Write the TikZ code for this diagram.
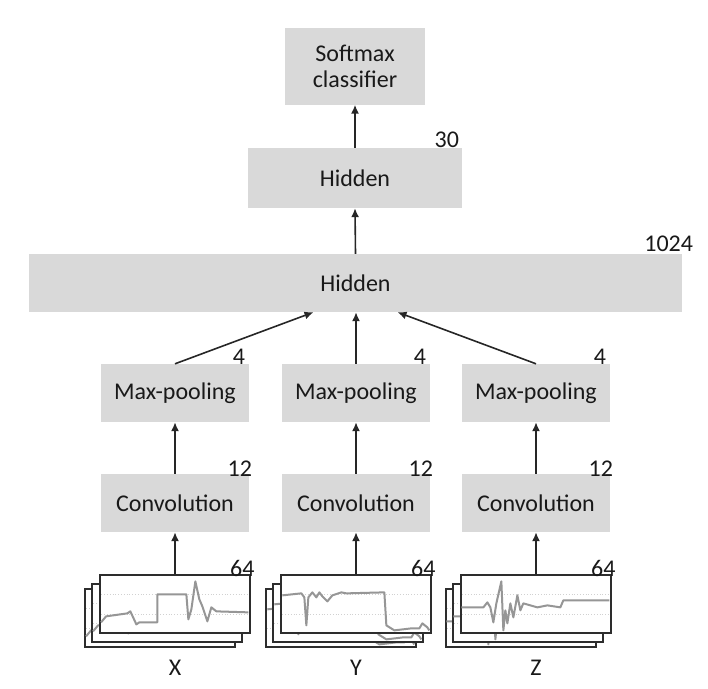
\documentclass[tikz,border=0pt]{standalone}
\usepackage{fontspec}
\setmainfont{Carlito}
\usetikzlibrary{arrows.meta,positioning}
\definecolor{boxgray}{RGB}{217,217,217}
\definecolor{txtgray}{RGB}{25,25,25}
\definecolor{siggray}{RGB}{150,150,150}
\definecolor{framegray}{RGB}{45,45,45}
\newcommand{\layerfont}{\fontsize{24}{26}\selectfont}
% the three accelerometer traces, in px inside a 150x58 frame
\newcommand{\sigX}{(1.7,48) -- (6.7,42) -- (28,39) -- (31,37) -- (37,50) -- (40,48) -- (58,48) -- (58,20) -- (87,20) -- (89,45) -- (92,35) -- (96,7) -- (100,25) -- (103,32) -- (108,47) -- (112,33) -- (117,37) -- (149,38)}
\newcommand{\sigY}{(2,21) -- (21,19) -- (24,23) -- (26,51) -- (28,23) -- (32,18) -- (36,23) -- (39,18) -- (42,22) -- (47,27) -- (52,21) -- (61,18) -- (66,19) -- (104,18) -- (106,51) -- (114,56) -- (131,54) -- (139,54) -- (142,49) -- (147,53) -- (149,56)}
\newcommand{\sigZ}{(1,33) -- (23,33) -- (27,28) -- (30,33) -- (33,48) -- (36,29) -- (41,7) -- (43,56) -- (45,36) -- (47,49) -- (50,29) -- (53,43) -- (57,21) -- (60,36) -- (63,29) -- (77,33) -- (87,31) -- (100,33) -- (103,26) -- (149,26)}
\tikzset{
  layer/.style={fill=boxgray, text=txtgray, inner sep=0pt, minimum height=58pt},
  small layer/.style={layer, minimum width=148pt},
  size/.style={anchor=base east, text=txtgray, inner sep=0pt},
  flow/.style={-{Latex[length=9pt,width=8pt]}, line width=1.6pt, draw=black!85},
  frame/.style={draw=framegray, line width=1.3pt, fill=white, minimum width=150pt, minimum height=58pt, inner sep=0pt},
  signal/.style={draw=siggray, line width=2pt, line join=round},
  grid line/.style={draw=black!18, dotted, line width=0.8pt},
  every node/.style={font=\layerfont}
}

\begin{document}
\begin{tikzpicture}[x=1pt, y=-1pt]
\useasboundingbox (0,0) rectangle (708,688);

% top of the net
\node[layer, minimum width=140pt, minimum height=77pt, align=center] (softmax) at (355,66) {Softmax\\classifier};
\node[layer, minimum width=214pt, minimum height=60pt] (hid30) at (355,178) {Hidden};
\node[layer, minimum width=653pt] (hid1024) at (355.5,283) {Hidden};
\node[size] (n30) at ([xshift=-3pt]hid30.north east) {30};
\node[size] (n1024) at ([xshift=11pt,yshift=2pt]hid1024.north east) {1024};

\draw[flow] (hid30) -- (softmax);
\draw[flow] (hid1024.north) -- (hid30.south);

% one column per axis
\foreach \name/\x/\sig in {X/175/\sigX, Y/356/\sigY, Z/536/\sigZ}{
  \node[small layer] (mp\name) at (\x,393) {Max-pooling};
  \node[small layer] (conv\name) at (\x,503) {Convolution};
  \node[size] (nmp\name) at ([xshift=-4pt,yshift=-1pt]mp\name.north east) {4};
  \node[size] (nconv\name) at ([xshift=3pt,yshift=-3pt]conv\name.north east) {12};
  % stacked input frames, back to front
  \foreach \dx/\dy/\k in {-15/14/c, -8/9/b, 0/0/a}{
    \node[frame] (in\name\k) at (\x+\dx,604+\dy) {};
    \begin{scope}[shift={(in\name\k.north west)}]
      \draw[grid line] (2,20) -- (148,20) (2,40) -- (148,40);
      \draw[signal] \sig;
    \end{scope}
  }
  \node[size] (nin\name) at ([xshift=4pt,yshift=-2pt]in\name a.north east) {64};
  \node[text=txtgray] (lab\name) at ([yshift=-34pt]in\name a.south) {\name};
  \draw[flow] (conv\name) -- (mp\name);
  \draw[flow] (in\name a.north) -- (conv\name.south);
}

\draw[flow] (mpX.north) -- ([xshift=-42pt]hid1024.south);
\draw[flow] (mpY.north) -- (mpY.north |- hid1024.south);
\draw[flow] (mpZ.north) -- ([xshift=42pt]hid1024.south);
\end{tikzpicture}
\end{document}
